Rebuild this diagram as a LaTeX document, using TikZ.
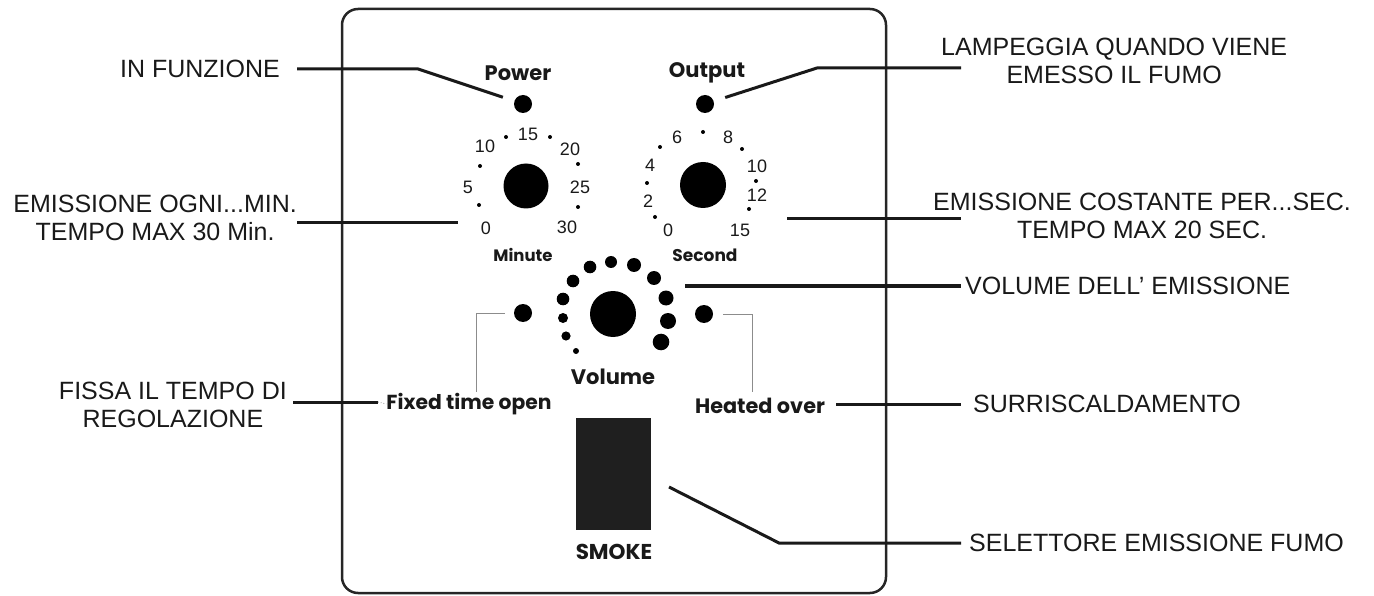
\documentclass[tikz,border=0pt]{standalone}
\usepackage{fontspec}
\setmainfont{Liberation Sans}
\newfontfamily\panelfont{Poppins}
\begin{document}
\begin{tikzpicture}[x=1pt,y=-1pt,
  lbl/.style={font=\fontsize{25}{28.5}\selectfont, align=center, inner sep=0pt, text=black!90},
  pnl/.style={font=\panelfont\bfseries\fontsize{21}{23}\selectfont, inner sep=0pt, text=black!90},
  num/.style={font=\fontsize{18}{19}\selectfont, inner sep=0pt, text=black!90},
  lead/.style={line width=3pt, black!90},
  thinl/.style={line width=0.8pt, black!45},
  ledb/.style={circle, fill=black, minimum size=18pt, inner sep=0pt},
  knob/.style={circle, fill=black, inner sep=0pt},
  dtick/.style={circle, fill=black, minimum size=4pt, inner sep=0pt}]
\useasboundingbox (0,0) rectangle (1374,596);
% front panel
\draw[line width=2.5pt, black!85, rounded corners=16pt] (342,9) rectangle (886,593);
% indicators
\node[pnl] (pwr) at (518,73) {Power};
\node[ledb] (ledP) at (523,104) {};
\node[pnl] (outp) at (707,73) {Output};
\node[ledb] (ledO) at (705,104) {};
% minute dial
\node[knob, minimum size=45pt] (knM) at (526,186) {};
\foreach \t/\x/\y in {0/486/228, 5/468/187, 10/485/146, 15/528/134, 20/570/149, 25/580/187, 30/567/227}
  \node[num] (m\t) at (\x,\y) {\t};
\foreach \x/\y [count=\i] in {479/205, 480/166, 506/137, 550/137, 578/164, 578/207}
  \node[dtick] (mt\i) at (\x,\y) {};
\node[pnl, font=\panelfont\bfseries\fontsize{16.5}{18}\selectfont] (minu) at (523,255) {Minute};
% second dial
\node[knob, minimum size=46pt] (knS) at (703,185) {};
\foreach \t/\x/\y in {0/668/230, 2/648/201, 4/650/165, 6/677/137, 8/728/137, 10/757/166, 12/757/195, 15/740/230}
  \node[num] (s\t) at (\x,\y) {\t};
\foreach \x/\y [count=\i] in {655/217, 647/183, 660/147, 703/132, 742/149, 756/181, 749/209}
  \node[dtick] (st\i) at (\x,\y) {};
\node[pnl, font=\panelfont\bfseries\fontsize{17}{19}\selectfont] (secn) at (705,255) {Second};
% volume
\node[knob, minimum size=46pt] (knV) at (613,314) {};
\foreach \x/\y/\r [count=\i] in {576/351/3, 566/336/4.6, 563/318/5, 563/299/6.3, 573/281/6.3, 590/267/6.3, 611/262/6, 634/265/7, 654/278/7, 666/298/7.5, 668/321/8, 661/342/8.3}
  \node[knob, minimum size=\r*2pt] (vd\i) at (\x,\y) {};
\node[pnl, font=\panelfont\bfseries\fontsize{21}{23}\selectfont] (volm) at (613,377) {Volume};
% side lamps
\node[ledb] (ledF) at (523,313) {};
\node[ledb] (ledH) at (704,314) {};
\node[pnl, font=\panelfont\bfseries\fontsize{20.3}{22}\selectfont] (fxd) at (469,404) {Fixed time open};
\node[pnl, font=\panelfont\bfseries\fontsize{20.8}{22}\selectfont] (heat) at (760,406) {Heated over};
\coordinate (fA) at (476,313);
\coordinate (fB) at (476,392);
\coordinate (hA) at (752,314);
\coordinate (hB) at (752,392);
\draw[thinl, shorten <=9pt] (ledF) -- (fA) -- (fB);
\draw[thinl, shorten <=10pt] (ledH) -- (hA) -- (hB);
% smoke button
\node[fill=black!88, minimum width=75pt, minimum height=112pt, inner sep=0pt] (smk) at (613.5,474) {};
\node[pnl, font=\panelfont\bfseries\fontsize{21.5}{23}\selectfont] (smkl) at (614,552) {SMOKE};
% captions
\node[lbl, anchor=east] (infz) at (280,69) {IN FUNZIONE};
\node[lbl, anchor=east] (emog) at (297,218) {EMISSIONE OGNI...MIN.\\TEMPO MAX 30 Min.};
\node[lbl, anchor=east] (fiss) at (287,405) {FISSA IL TEMPO DI\\REGOLAZIONE};
\node[lbl, anchor=west] (lamp) at (941,61) {LAMPEGGIA QUANDO VIENE\\EMESSO IL FUMO};
\node[lbl, anchor=west] (emco) at (933,216) {EMISSIONE COSTANTE PER...SEC.\\TEMPO MAX 20 SEC.};
\node[lbl, anchor=west] (volu) at (965,286) {VOLUME DELL’ EMISSIONE};
\node[lbl, anchor=west] (surr) at (973,404) {SURRISCALDAMENTO};
\node[lbl, anchor=west] (sele) at (969,543) {SELETTORE EMISSIONE FUMO};
% leaders
\coordinate (aP) at (297,69);
\coordinate (kP) at (418,69);
\coordinate (aM) at (297,223);
\coordinate (bM) at (458,223);
\coordinate (aF) at (293,402);
\coordinate (bF) at (378,402);
\coordinate (kO) at (817,68);
\coordinate (aO) at (961,68);
\coordinate (aS) at (787,219);
\coordinate (bS) at (961,219);
\coordinate (aV) at (685,286);
\coordinate (bV) at (961,286);
\coordinate (aH) at (836,404);
\coordinate (bH) at (961,404);
\coordinate (aK) at (669,487);
\coordinate (kK) at (779,543);
\coordinate (bK) at (961,543);
\draw[lead, shorten >=12pt] (aP) -- (kP) -- (ledP);
\draw[lead] (aM) -- (bM);
\draw[lead] (aF) -- (bF);
\draw[thinl, dotted] (bF) -- (fxd.west);
\draw[lead, shorten <=12pt] (ledO) -- (kO) -- (aO);
\draw[lead] (aS) -- (bS);
\draw[lead] (aV) -- (bV);
\draw[lead] (aH) -- (bH);
\draw[lead] (aK) -- (kK) -- (bK);
\end{tikzpicture}
\end{document}
